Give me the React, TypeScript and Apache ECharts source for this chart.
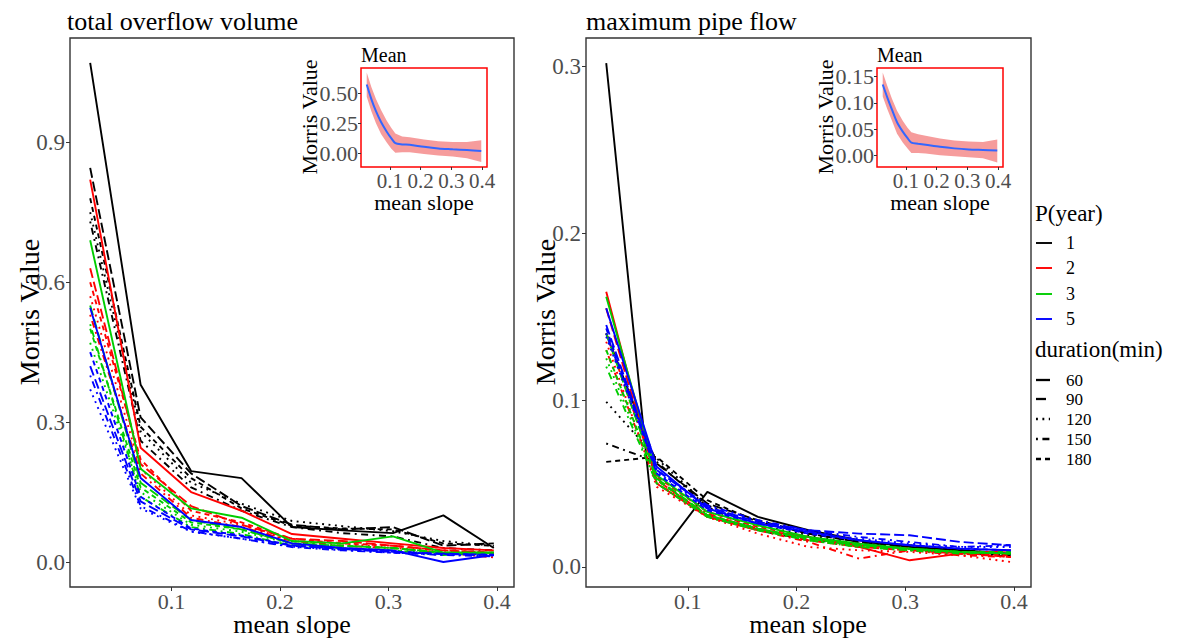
import React, { useEffect, useRef } from "react";
import * as echarts from "echarts";

// ---------- data ----------
const slopes = [0.025, 0.0715, 0.118, 0.1645, 0.211, 0.2575, 0.304, 0.3505, 0.397];
const pYears = ["1", "2", "3", "5"];
const durations = ["60", "90", "120", "150", "180"];
const xTicks = [0.1, 0.2, 0.3, 0.4];
const tovTicks = [0, 0.3, 0.6, 0.9];
const mpfTicks = [0, 0.1, 0.2, 0.3];
const tovInsetTicks = [0, 0.25, 0.5];
const mpfInsetTicks = [0, 0.05, 0.1, 0.15];

// total overflow volume — rows: duration 60, 90, 120, 150, 180
const tovP1 = [
  [1.07, 0.38, 0.195, 0.18, 0.075, 0.068, 0.062, 0.1, 0.03],
  [0.845, 0.31, 0.19, 0.12, 0.08, 0.07, 0.075, 0.035, 0.04],
  [0.75, 0.28, 0.17, 0.125, 0.088, 0.077, 0.066, 0.045, 0.035],
  [0.73, 0.26, 0.16, 0.11, 0.075, 0.062, 0.055, 0.03, 0.025],
  [0.78, 0.29, 0.18, 0.115, 0.078, 0.072, 0.07, 0.04, 0.035],
];
const tovP2 = [
  [0.82, 0.245, 0.15, 0.11, 0.06, 0.05, 0.04, 0.03, 0.025],
  [0.63, 0.21, 0.12, 0.08, 0.05, 0.045, 0.035, 0.025, 0.02],
  [0.57, 0.2, 0.1, 0.08, 0.045, 0.04, 0.03, 0.025, 0.015],
  [0.53, 0.19, 0.095, 0.075, 0.045, 0.035, 0.03, 0.02, 0.01],
  [0.6, 0.22, 0.11, 0.085, 0.05, 0.04, 0.035, 0.025, 0.02],
];
const tovP3 = [
  [0.69, 0.2, 0.115, 0.095, 0.045, 0.04, 0.055, 0.02, 0.02],
  [0.55, 0.17, 0.09, 0.07, 0.04, 0.035, 0.03, 0.02, 0.02],
  [0.47, 0.15, 0.08, 0.065, 0.04, 0.03, 0.025, 0.02, 0.015],
  [0.51, 0.14, 0.075, 0.06, 0.035, 0.03, 0.025, 0.015, 0.02],
  [0.5, 0.16, 0.085, 0.07, 0.04, 0.035, 0.03, 0.02, 0.02],
];
const tovP5 = [
  [0.545, 0.18, 0.09, 0.075, 0.04, 0.03, 0.025, 0.0, 0.015],
  [0.42, 0.13, 0.07, 0.055, 0.035, 0.028, 0.022, 0.018, 0.015],
  [0.37, 0.115, 0.065, 0.05, 0.033, 0.026, 0.02, 0.016, 0.014],
  [0.4, 0.12, 0.066, 0.05, 0.032, 0.025, 0.02, 0.015, 0.012],
  [0.45, 0.14, 0.072, 0.057, 0.036, 0.028, 0.022, 0.017, 0.016],
];

// maximum pipe flow — rows: duration 60, 90, 120, 150, 180
const mpfP1 = [
  [0.302, 0.005, 0.045, 0.03, 0.022, 0.016, 0.012, 0.01, 0.008],
  [0.14, 0.062, 0.038, 0.028, 0.02, 0.015, 0.012, 0.01, 0.007],
  [0.099, 0.065, 0.037, 0.025, 0.019, 0.014, 0.012, 0.009, 0.007],
  [0.074, 0.063, 0.036, 0.022, 0.016, 0.014, 0.011, 0.009, 0.006],
  [0.063, 0.066, 0.04, 0.027, 0.02, 0.015, 0.013, 0.01, 0.008],
];
const mpfP2 = [
  [0.165, 0.05, 0.03, 0.022, 0.018, 0.012, 0.004, 0.008, 0.01],
  [0.155, 0.052, 0.031, 0.023, 0.016, 0.012, 0.01, 0.008, 0.006],
  [0.135, 0.048, 0.03, 0.02, 0.012, 0.01, 0.009, 0.007, 0.003],
  [0.13, 0.05, 0.032, 0.022, 0.015, 0.005, 0.01, 0.007, 0.006],
  [0.14, 0.054, 0.033, 0.024, 0.018, 0.013, 0.011, 0.008, 0.007],
];
const mpfP3 = [
  [0.162, 0.055, 0.033, 0.025, 0.018, 0.014, 0.011, 0.009, 0.008],
  [0.14, 0.053, 0.031, 0.023, 0.017, 0.013, 0.011, 0.009, 0.008],
  [0.125, 0.05, 0.03, 0.022, 0.016, 0.012, 0.01, 0.009, 0.008],
  [0.12, 0.05, 0.03, 0.022, 0.016, 0.012, 0.01, 0.008, 0.009],
  [0.13, 0.052, 0.031, 0.023, 0.017, 0.013, 0.011, 0.009, 0.009],
];
const mpfP5 = [
  [0.155, 0.06, 0.035, 0.026, 0.021, 0.016, 0.013, 0.011, 0.01],
  [0.145, 0.058, 0.036, 0.027, 0.022, 0.02, 0.019, 0.015, 0.013],
  [0.138, 0.057, 0.035, 0.027, 0.021, 0.017, 0.014, 0.012, 0.012],
  [0.14, 0.058, 0.037, 0.028, 0.022, 0.018, 0.015, 0.012, 0.013],
  [0.143, 0.056, 0.034, 0.026, 0.02, 0.016, 0.013, 0.011, 0.01],
];

// inset "Mean" curves (smoothed mean with band)
const meanSlopes = [0.025, 0.04, 0.055, 0.0715, 0.09, 0.105, 0.118, 0.14, 0.1645, 0.211, 0.2575, 0.304, 0.3505, 0.397];
const tovMean = [0.57, 0.45, 0.35, 0.26, 0.18, 0.125, 0.085, 0.075, 0.072, 0.055, 0.042, 0.035, 0.028, 0.02];
const tovUpper = [0.67, 0.55, 0.45, 0.36, 0.27, 0.21, 0.165, 0.14, 0.135, 0.115, 0.1, 0.095, 0.095, 0.11];
const tovLower = [0.47, 0.35, 0.25, 0.16, 0.09, 0.04, 0.005, 0.01, 0.009, -0.005, -0.016, -0.025, -0.04, -0.07];
const mpfMean = [0.135, 0.11, 0.087, 0.063, 0.045, 0.033, 0.024, 0.022, 0.02, 0.016, 0.013, 0.011, 0.01, 0.009];
const mpfUpper = [0.158, 0.132, 0.108, 0.085, 0.066, 0.053, 0.044, 0.04, 0.037, 0.032, 0.028, 0.026, 0.025, 0.03];
const mpfLower = [0.112, 0.088, 0.066, 0.041, 0.024, 0.013, 0.004, 0.004, 0.003, 0.0, -0.002, -0.004, -0.006, -0.014];

// ---------- styles ----------
const FONT = '"Liberation Serif", "Times New Roman", serif';
const pColors = ["#000000", "#FF0000", "#00CD00", "#0000FF"];
const LW = 1.9;
const dashes: any[] = ["solid", [10, 4], [1.9, 4.5], [1.9, 4.5, 7, 4.5], [5, 4]];
const TICK_COLOR = "#4D4D4D";

function xAxisCfg(grid: number, fontSize: number, tickLen: number, margin: number) {
  return {
    type: "value",
    gridIndex: grid,
    min: 0.0064,
    max: 0.4156,
    axisLine: { show: false, onZero: false },
    splitLine: { show: false },
    axisTick: { show: true, customValues: xTicks, length: tickLen, lineStyle: { color: "#333", width: 1 } },
    axisLabel: {
      show: true,
      customValues: xTicks,
      formatter: (v: number) => Number(v).toFixed(1),
      color: TICK_COLOR,
      fontSize,
      fontFamily: FONT,
      margin,
    },
  };
}

function yAxisCfg(grid: number, min: number, max: number, ticks: number[], dec: number, fontSize: number, tickLen: number, margin: number) {
  return {
    type: "value",
    gridIndex: grid,
    min,
    max,
    axisLine: { show: false, onZero: false },
    splitLine: { show: false },
    axisTick: { show: true, customValues: ticks, length: tickLen, lineStyle: { color: "#333", width: 1 } },
    axisLabel: {
      show: true,
      customValues: ticks,
      formatter: (v: number) => Number(v).toFixed(dec),
      color: TICK_COLOR,
      fontSize,
      fontFamily: FONT,
      margin,
    },
  };
}

function ribbon(idx: number, lower: number[], upper: number[]) {
  return {
    type: "custom",
    xAxisIndex: idx,
    yAxisIndex: idx,
    silent: true,
    z: 3,
    data: meanSlopes.map((x, i) => [x, lower[i], upper[i]]),
    encode: { x: 0, y: [1, 2] },
    renderItem: (params: any, api: any) => {
      if (params.dataIndex !== 0) return null;
      const pts: number[][] = [];
      for (let i = 0; i < meanSlopes.length; i++) pts.push(api.coord([meanSlopes[i], upper[i]]));
      for (let i = meanSlopes.length - 1; i >= 0; i--) pts.push(api.coord([meanSlopes[i], lower[i]]));
      return { type: "polygon", shape: { points: pts }, style: { fill: "rgba(240,90,90,0.6)" } };
    },
  };
}

function meanLine(idx: number, vals: number[]) {
  return {
    type: "line",
    xAxisIndex: idx,
    yAxisIndex: idx,
    silent: true,
    z: 4,
    showSymbol: false,
    symbol: "none",
    smooth: 0.3,
    data: meanSlopes.map((x, i) => [x, vals[i]]),
    lineStyle: { color: "#3366FF", width: 2 },
  };
}

function txt(text: string, x: number, y: number, size: number, align = "left", rotate = 0, color = "#000") {
  return {
    type: "text",
    x,
    y,
    rotation: rotate,
    silent: true,
    style: { text, fill: color, fontSize: size, fontFamily: FONT, align, verticalAlign: "middle" },
  };
}

function keyLine(x1: number, x2: number, y: number, color: string, dash: any, w = LW) {
  return {
    type: "line",
    silent: true,
    shape: { x1, y1: y, x2, y2: y },
    style: { stroke: color, lineWidth: w, lineDash: dash === "solid" ? null : dash },
  };
}

export default function App() {
  const ref = useRef<HTMLDivElement>(null);
  useEffect(() => {
    document.body.style.margin = "0";
    if (!ref.current) return;
    const chart = echarts.init(ref.current, undefined, { renderer: "svg" });

    const series: any[] = [];
    const panels = [
      [tovP1, tovP2, tovP3, tovP5],
      [mpfP1, mpfP2, mpfP3, mpfP5],
    ];
    panels.forEach((panel, pi) => {
      panel.forEach((rows, ci) => {
        rows.forEach((vals, di) => {
          series.push({
            type: "line",
            name: `P${pYears[ci]}-${durations[di]}`,
            xAxisIndex: pi,
            yAxisIndex: pi,
            silent: true,
            showSymbol: false,
            symbol: "none",
            data: slopes.map((x, i) => [x, vals[i]]),
            lineStyle: { color: pColors[ci], width: LW, type: dashes[di], cap: "butt" },
          });
        });
      });
    });
    series.push(ribbon(2, tovLower, tovUpper));
    series.push(meanLine(2, tovMean));
    series.push(ribbon(3, mpfLower, mpfUpper));
    series.push(meanLine(3, mpfMean));

    const graphic: any[] = [
      txt("total overflow volume", 67, 21, 26),
      txt("maximum pipe flow", 586, 21, 26),
      txt("Morris Value", 29, 312, 28, "center", Math.PI / 2),
      txt("Morris Value", 545, 312, 28, "center", Math.PI / 2),
      txt("mean slope", 292, 624, 26, "center"),
      txt("mean slope", 808, 624, 26, "center"),
      txt("Mean", 361, 55, 20),
      txt("Mean", 877, 55, 20),
      txt("Morris Value", 309, 117, 22, "center", Math.PI / 2),
      txt("Morris Value", 825, 117, 22, "center", Math.PI / 2),
      txt("mean slope", 424, 202, 22, "center"),
      txt("mean slope", 940, 202, 22, "center"),
      txt("P(year)", 1035, 213, 23),
      txt("duration(min)", 1035, 349, 23),
    ];
    const pY = [243, 268, 294, 319];
    pYears.forEach((p, i) => {
      graphic.push(keyLine(1036, 1052, pY[i], pColors[i], "solid"));
      graphic.push(txt(p, 1066, pY[i], 18));
    });
    const dY = [380, 399, 419, 439, 459];
    durations.forEach((d, i) => {
      graphic.push(keyLine(1036, 1050, dY[i], "#000", dashes[i], 2.3));
      graphic.push(txt(d, 1066, dY[i], 17));
    });

    const gridBase = { show: true, backgroundColor: "#fff", containLabel: false };
    chart.setOption({
      animation: false,
      backgroundColor: "#fff",
      grid: [
        { ...gridBase, left: 70, top: 38, width: 444, height: 549, borderColor: "#333", borderWidth: 1.4 },
        { ...gridBase, left: 586, top: 38, width: 445, height: 549, borderColor: "#333", borderWidth: 1.4 },
        { ...gridBase, left: 361, top: 68, width: 126, height: 99, borderColor: "#FF0000", borderWidth: 1.5 },
        { ...gridBase, left: 877, top: 68, width: 126, height: 99, borderColor: "#FF0000", borderWidth: 1.5 },
      ],
      xAxis: [xAxisCfg(0, 22, 4, 3), xAxisCfg(1, 22, 4, 3), xAxisCfg(2, 21, 3, 3), xAxisCfg(3, 21, 3, 3)],
      yAxis: [
        yAxisCfg(0, -0.0535, 1.1235, tovTicks, 1, 23, 4, 5),
        yAxisCfg(1, -0.012, 0.317, mpfTicks, 1, 23, 4, 5),
        yAxisCfg(2, -0.112, 0.707, tovInsetTicks, 2, 22, 3, 3),
        yAxisCfg(3, -0.0226, 0.1666, mpfInsetTicks, 2, 22, 3, 3),
      ],
      series,
      graphic,
    });
    return () => chart.dispose();
  }, []);
  return <div ref={ref} style={{ position: "absolute", left: 0, top: 0, width: 1190, height: 638, background: "#fff" }} />;
}
